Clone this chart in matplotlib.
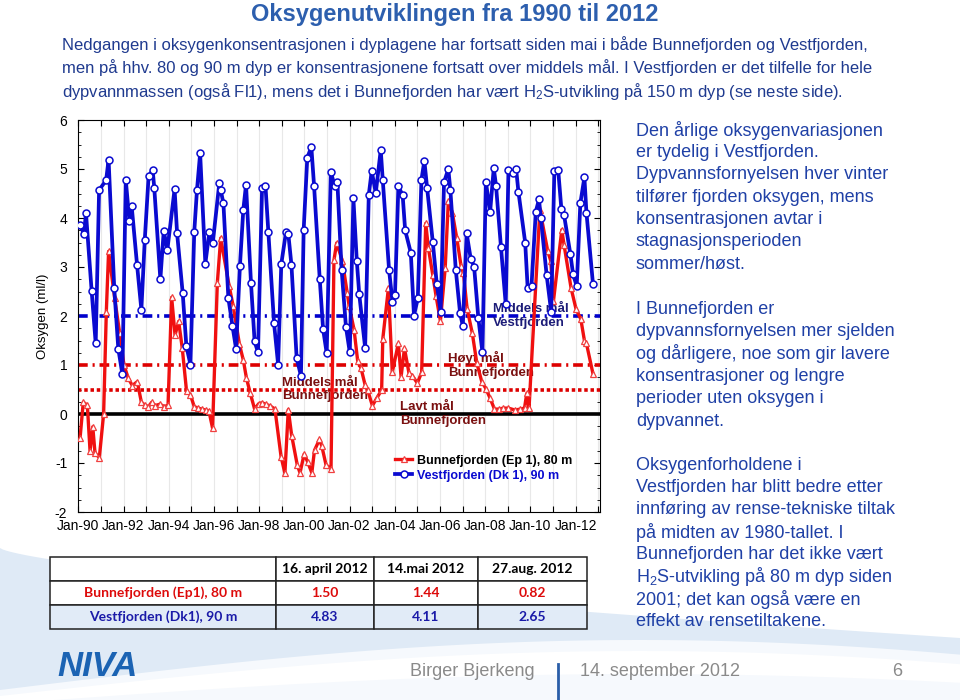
import matplotlib
matplotlib.use('Agg')
import matplotlib.pyplot as plt
import numpy as np
from matplotlib.ticker import MultipleLocator

plt.rcParams['font.family'] = ['Liberation Sans', 'DejaVu Sans']
plt.rcParams['mathtext.fontset'] = 'custom'
plt.rcParams['mathtext.rm'] = 'Liberation Sans'
plt.rcParams['mathtext.it'] = 'Liberation Sans:italic'
plt.rcParams['mathtext.bf'] = 'Liberation Sans:bold'
plt.rcParams['lines.scale_dashes'] = False
plt.rcParams['axes.unicode_minus'] = False

# Vestfjorden (Dk 1), 90 m  -- decimal year, ml/l
vest_t = [1990.07, 1990.25, 1990.34, 1990.59, 1990.77, 1990.92, 1991.23, 1991.34, 1991.59, 1991.77,
          1991.95, 1992.10, 1992.26, 1992.36, 1992.60, 1992.79, 1992.94, 1993.11, 1993.29, 1993.36,
          1993.63, 1993.78, 1993.94, 1994.26, 1994.37, 1994.62, 1994.78, 1994.96, 1995.13, 1995.25,
          1995.39, 1995.62, 1995.80, 1995.95, 1996.24, 1996.30, 1996.42, 1996.64, 1996.82, 1996.98,
          1997.15, 1997.30, 1997.42, 1997.64, 1997.80, 1997.95, 1998.13, 1998.28, 1998.41, 1998.66,
          1998.84, 1998.98, 1999.19, 1999.29, 1999.43, 1999.66, 1999.85, 1999.97, 2000.13, 2000.31,
          2000.43, 2000.68, 2000.83, 2000.99, 2001.17, 2001.34, 2001.46, 2001.65, 2001.84, 2002.01,
          2002.17, 2002.32, 2002.43, 2002.69, 2002.85, 2002.98, 2003.16, 2003.38, 2003.47, 2003.75,
          2003.90, 2004.01, 2004.16, 2004.35, 2004.46, 2004.71, 2004.85, 2005.02, 2005.18, 2005.31,
          2005.43, 2005.68, 2005.86, 2006.03, 2006.18, 2006.37, 2006.46, 2006.70, 2006.89, 2007.01,
          2007.18, 2007.36, 2007.51, 2007.70, 2007.88, 2008.03, 2008.22, 2008.38, 2008.48, 2008.70,
          2008.91, 2009.03, 2009.22, 2009.37, 2009.47, 2009.77, 2009.88, 2010.05, 2010.24, 2010.38,
          2010.46, 2010.72, 2010.92, 2011.06, 2011.23, 2011.37, 2011.49, 2011.77, 2011.89, 2012.05,
          2012.21, 2012.39, 2012.48, 2012.77]
vest_o2 = [3.86, 3.68, 4.10, 2.51, 1.44, 4.57, 4.77, 5.19, 2.57, 1.33,
           0.81, 4.78, 3.94, 4.25, 3.04, 2.13, 3.55, 4.85, 4.98, 4.62,
           2.75, 3.74, 3.35, 4.59, 3.69, 2.46, 1.39, 1.01, 3.72, 4.57,
           5.32, 3.07, 3.72, 3.49, 4.72, 4.57, 4.30, 2.36, 1.80, 1.33,
           3.02, 4.17, 4.68, 2.67, 1.48, 1.26, 4.61, 4.66, 3.71, 1.85,
           1.01, 3.06, 3.72, 3.68, 3.04, 1.14, 0.78, 3.76, 5.23, 5.45,
           4.66, 2.76, 1.73, 1.24, 4.94, 4.66, 4.74, 2.94, 1.78, 1.26,
           4.40, 3.13, 2.44, 1.35, 4.47, 4.96, 4.51, 5.39, 4.77, 2.93,
           2.29, 2.43, 4.65, 4.46, 3.75, 3.29, 2.01, 2.36, 4.78, 5.17,
           4.62, 3.52, 2.65, 2.09, 4.73, 5.00, 4.57, 2.94, 2.06, 1.80,
           3.69, 3.17, 3.01, 1.95, 1.26, 4.74, 4.13, 5.02, 4.66, 3.40,
           2.24, 4.97, 4.91, 5.00, 4.54, 3.50, 2.57, 2.62, 4.13, 4.38,
           4.01, 2.83, 2.09, 4.95, 4.98, 4.19, 4.06, 3.26, 2.85, 2.61,
           4.30, 4.83, 4.11, 2.65]

# Bunnefjorden (Ep 1), 80 m
bunn_t = [1990.08, 1990.22, 1990.40, 1990.52, 1990.64, 1990.74, 1990.93, 1991.12, 1991.24, 1991.34,
          1991.61, 1991.83, 1992.02, 1992.21, 1992.39, 1992.61, 1992.79, 1992.95, 1993.10, 1993.25,
          1993.39, 1993.61, 1993.81, 1993.97, 1994.13, 1994.28, 1994.44, 1994.60, 1994.79, 1994.96,
          1995.13, 1995.31, 1995.46, 1995.64, 1995.78, 1995.94, 1996.15, 1996.30, 1996.67, 1996.85,
          1997.13, 1997.30, 1997.44, 1997.61, 1997.80, 1997.98, 1998.12, 1998.30, 1998.50, 1998.70,
          1998.97, 1999.14, 1999.29, 1999.44, 1999.69, 1999.81, 1999.99, 2000.14, 2000.33, 2000.45,
          2000.67, 2000.77, 2000.96, 2001.18, 2001.31, 2001.43, 2001.68, 2001.90, 2001.98, 2002.20,
          2002.36, 2002.51, 2002.69, 2002.80, 2003.01, 2003.20, 2003.42, 2003.47, 2003.72, 2003.89,
          2004.16, 2004.28, 2004.43, 2004.63, 2004.78, 2005.00, 2005.19, 2005.37, 2005.49, 2005.68,
          2005.83, 2006.02, 2006.23, 2006.37, 2006.55, 2006.74, 2006.93, 2007.04, 2007.20, 2007.43,
          2007.63, 2007.85, 2008.03, 2008.22, 2008.41, 2008.59, 2008.81, 2009.03, 2009.32, 2009.54,
          2009.74, 2009.84, 2009.94, 2010.42, 2010.77, 2010.90, 2011.02, 2011.39, 2011.49, 2011.80,
          2012.02, 2012.23, 2012.39, 2012.48, 2012.77]
bunn_o2 = [-0.48, 0.24, 0.18, -0.76, -0.26, -0.80, -0.89, 0.00, 2.09, 3.32,
           2.36, 1.65, 1.00, 0.73, 0.58, 0.66, 0.24, 0.18, 0.15, 0.24,
           0.17, 0.20, 0.15, 0.18, 2.38, 1.61, 1.89, 1.34, 0.46, 0.39,
           0.15, 0.12, 0.10, 0.08, 0.06, -0.29, 2.67, 3.59, 2.62, 2.21,
           1.42, 1.10, 0.73, 0.42, 0.10, 0.21, 0.23, 0.20, 0.16, 0.10,
           -0.87, -1.21, 0.09, -0.44, -1.05, -1.20, -0.82, -0.97, -1.20, -0.74,
           -0.52, -0.65, -1.04, -1.12, 3.14, 3.49, 3.13, 2.46, 2.21, 1.72,
           1.08, 0.93, 0.59, 0.49, 0.17, 0.32, 0.49, 1.53, 2.57, 0.85,
           1.44, 0.76, 1.34, 0.83, 0.78, 0.63, 0.85, 3.89, 3.38, 2.84,
           2.40, 1.90, 2.97, 4.34, 4.10, 3.60, 3.03, 2.87, 2.15, 1.65,
           1.04, 0.66, 0.52, 0.32, 0.10, 0.10, 0.12, 0.12, 0.08, 0.10,
           0.12, 0.42, 0.12, 4.17, 3.32, 3.13, 2.30, 3.76, 3.45, 2.57,
           2.14, 1.94, 1.50, 1.44, 0.82]

# target levels
goal_levels = [2.0, 1.0, 0.5, 0.0]
goal_names = ['Middels mål\nVestfjorden', 'Høyt mål\nBunnefjorden',
              'Middels mål\nBunnefjorden', 'Lavt mål\nBunnefjorden']

year_ticks = list(range(1990, 2014))

# table
table_dates = ['16. april 2012', '14.mai 2012', '27.aug. 2012']
table_rows = ['Bunnefjorden (Ep1), 80 m', 'Vestfjorden (Dk1), 90 m']
table_vals = [[1.50, 1.44, 0.82], [4.83, 4.11, 2.65]]

RED = '#f01010'
BLUE = '#0a0ad0'
TXT = '#1f3a8f'

fig = plt.figure(figsize=(9.6, 7), dpi=100)

# background swoosh
bg = fig.add_axes([0, 0, 1, 1], zorder=-10)
bg.set_xlim(0, 960)
bg.set_ylim(700, 0)
bg.axis('off')
xs = np.linspace(0, 960, 300)
u = xs / 960
bg.fill_between(xs, 548 + 90 * u ** 0.7, 700, color='#dfeaf6', lw=0)
bg.fill_between(xs, 690 - 50 * np.sin(np.pi * u * 0.75), 700, color='#f6f9fd', lw=0)
bg.fill_between(xs, 700 - 45 * np.sin(np.pi * u * 0.75) - 4, 700 - 30 * np.sin(np.pi * u * 0.75) + 4,
                color='white', lw=0)

# chart
ax = fig.add_axes([78.3 / 960, 1 - 512 / 700, (600 - 78.3) / 960, 392 / 700])
ax.set_facecolor('white')
ax.set_xlim(1990, 2013.08)
ax.set_ylim(-2, 6)

styles = [dict(color='#0000cc', dashes=(7, 3.5, 1.5, 3.5)),
          dict(color='#dd0000', dashes=(7, 3.5, 1.5, 3.5)),
          dict(color='#dd0000', dashes=(2.5, 2)),
          dict(color='black')]
for lev, st in zip(goal_levels, styles):
    ax.axhline(lev, lw=2.6, zorder=2, **st)

ax.plot(bunn_t, bunn_o2, '-', color=RED, lw=2.4, marker='^', ms=4.5, mfc='white',
        mec='#f04040', mew=0.9, zorder=4, label='Bunnefjorden (Ep 1), 80 m')
ax.plot(vest_t, vest_o2, '-', color=BLUE, lw=2.7, marker='o', ms=5, mfc='white',
        mec=BLUE, mew=1.1, zorder=5, label='Vestfjorden (Dk 1), 90 m')

label_x = [2008.35, 2006.36, 1999.0, 2004.24]
label_c = ['#1c1c78', '#7a1010', '#7a1010', '#7a1010']
for lev, name, lx, c in zip(goal_levels, goal_names, label_x, label_c):
    ax.text(lx, lev, name, color=c, fontsize=9.5, fontweight='bold', va='center',
            ha='left', linespacing=1.15, zorder=3)

ax.set_xticks(year_ticks)
ax.set_xticklabels(['Jan-%02d' % (y % 100) if y % 2 == 0 else '' for y in year_ticks])
ax.yaxis.set_major_locator(MultipleLocator(1))
ax.yaxis.set_minor_locator(MultipleLocator(0.25))
ax.tick_params(axis='both', which='both', direction='in', top=True, right=True)
ax.tick_params(axis='both', which='major', length=4, labelsize=10)
ax.tick_params(axis='x', pad=5)
ax.tick_params(axis='y', pad=8)
ax.tick_params(axis='y', which='minor', length=2.5)
ax.grid(axis='x', color='#e8e8e8', lw=0.8)
ax.set_axisbelow(True)
ax.set_ylabel('Oksygen (ml/l)', fontsize=9.5, labelpad=4)

leg = ax.legend(loc='center left', bbox_to_anchor=(0.607, 0.112), frameon=False,
                prop={'size': 9, 'weight': 'bold'}, handlelength=1.4, handletextpad=0.4,
                labelspacing=0.25, borderpad=0, borderaxespad=0)
leg.get_texts()[0].set_color('black')
leg.get_texts()[1].set_color(BLUE)

# title and intro text
fig.text(455 / 960, 1 - 14 / 700, 'Oksygenutviklingen fra 1990 til 2012', ha='center', va='center',
         fontsize=17, fontweight='bold', color='#2d5fae')
intro = ['Nedgangen i oksygenkonsentrasjonen i dyplagene har fortsatt siden mai i både Bunnefjorden og Vestfjorden,',
         'men på hhv. 80 og 90 m dyp er konsentrasjonene fortsatt over middels mål. I Vestfjorden er det tilfelle for hele',
         'dypvannmassen (også Fl1), mens det i Bunnefjorden har vært H$_2$S-utvikling på 150 m dyp (se neste side).']
for i, line in enumerate(intro):
    fig.text(62 / 960, 1 - (45 + 23 * i) / 700, line, ha='left', va='center', fontsize=12, color=TXT)

# right-hand notes
notes = [(130, ['Den årlige oksygenvariasjonen', 'er tydelig i Vestfjorden.',
                'Dypvannsfornyelsen hver vinter', 'tilfører fjorden oksygen, mens',
                'konsentrasjonen avtar i', 'stagnasjonsperioden', 'sommer/høst.']),
         (309, ['I Bunnefjorden er', 'dypvannsfornyelsen mer sjelden',
                'og dårligere, noe som gir lavere', 'konsentrasjoner og lengre',
                'perioder uten oksygen i', 'dypvannet.']),
         (465, ['Oksygenforholdene i', 'Vestfjorden har blitt bedre etter',
                'innføring av rense-tekniske tiltak', 'på midten av 1980-tallet. I',
                'Bunnefjorden har det ikke vært', 'H$_2$S-utvikling på 80 m dyp siden',
                '2001; det kan også være en', 'effekt av rensetiltakene.'])]
for y0, lines in notes:
    for i, line in enumerate(lines):
        fig.text(636 / 960, 1 - (y0 + 22.4 * i) / 700, line, ha='left', va='center',
                 fontsize=13, color='#1f40a6')

# table
tax = fig.add_axes([50 / 960, 1 - 629 / 700, 537 / 960, 72 / 700])
tax.axis('off')
cells = [[name] + ['%.2f' % v for v in vals] for name, vals in zip(table_rows, table_vals)]
tbl = tax.table(cellText=cells, colLabels=[''] + table_dates, cellLoc='center',
                bbox=[0, 0, 1, 1], colWidths=[0.421, 0.182, 0.194, 0.203])
tbl.auto_set_font_size(False)
row_colors = ['black', '#dd0a0a', '#1a1aa8']
row_bg = ['white', 'white', '#e1ebf7']
for (r, c), cell in tbl.get_celld().items():
    cell.set_edgecolor('#222222')
    cell.set_linewidth(1.1)
    cell.set_facecolor(row_bg[r])
    cell.get_text().set_color(row_colors[r])
    cell.get_text().set_fontsize(10)
    cell.get_text().set_fontweight('bold')
    cell.get_text().set_fontfamily(['Lato', 'Liberation Sans'])

# footer
fig.text(57 / 960, 1 - 667 / 700, 'NIVA', ha='left', va='center', fontsize=25,
         fontweight='bold', fontstyle='italic', color='#1b63b3')
foot = dict(va='center', fontsize=13, color='#8a8a8a', family=['Liberation Sans Narrow', 'Liberation Sans'])
fig.text(410 / 960, 1 - 671 / 700, 'Birger Bjerkeng', ha='left', **foot)
fig.text(580 / 960, 1 - 671 / 700, '14. september 2012', ha='left', **foot)
fig.text(902 / 960, 1 - 671 / 700, '6', ha='right', **foot)
bg.plot([558, 558], [664, 700], color='#2a5ea8', lw=2)

fig.savefig('out.png', dpi=100)
